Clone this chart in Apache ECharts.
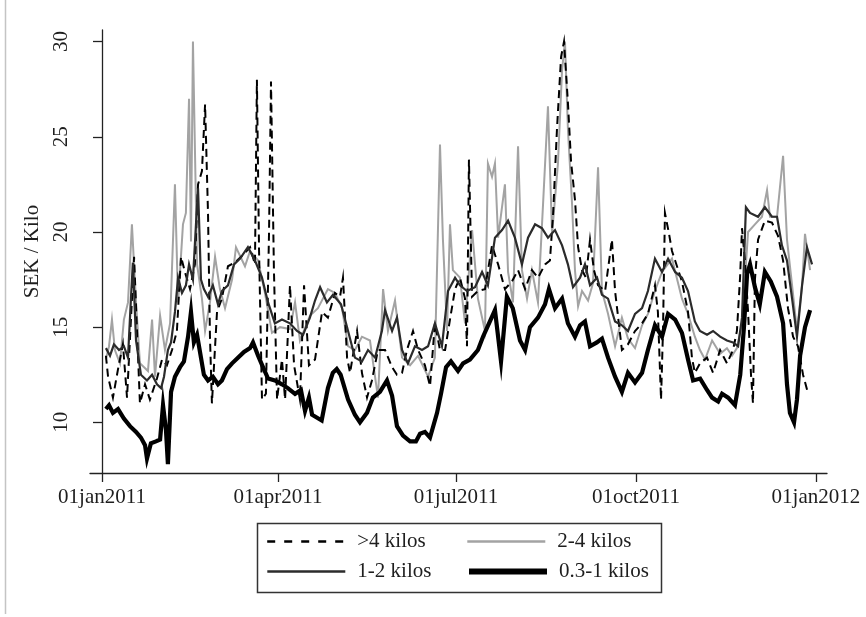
<!DOCTYPE html>
<html>
<head>
<meta charset="utf-8">
<script src="https://cdn.jsdelivr.net/npm/echarts@6/dist/echarts.min.js"></script>
<style>
html,body{margin:0;padding:0;background:#fff;}
#chart{width:866px;height:617px;}
</style>
</head>
<body>
<div id="chart"></div>
<script>
// x values: days since 01jan2011
const tickDays = [0, 90, 181, 273, 365];
const tickLabels = ['01jan2011', '01apr2011', '01jul2011', '01oct2011', '01jan2012'];
const yTicks = [10, 15, 20, 25, 30];

// >4 kilos
const daysOver4 = [2.0,3.1,5.6,8.2,10.7,12.8,14.8,16.4,17.9,19.4,22.0,24.5,28.1,30.7,33.2,35.8,38.3,40.4,42.4,45.0,47.5,49.1,51.1,52.7,54.2,55.2,56.2,58.8,61.3,64.4,68.0,72.1,75.7,78.2,79.2,80.3,81.8,83.8,85.4,86.4,87.9,89.5,92.0,93.6,96.1,98.2,101.2,103.3,105.8,108.9,112.5,115.5,119.1,121.7,123.2,125.3,126.8,130.4,132.9,135.5,138.0,141.1,144.7,148.3,150.8,153.4,155.9,159.0,161.6,165.1,167.7,170.2,172.8,175.4,177.9,180.5,183.0,185.6,186.6,187.6,189.2,192.2,195.8,199.4,202.5,206.0,209.6,212.7,216.3,219.8,222.9,226.5,229.0,230.6,232.6,234.7,236.2,238.2,239.8,241.8,243.4,245.4,247.4,249.5,251.5,253.6,257.2,260.7,262.3,265.8,268.9,272.5,276.1,279.1,282.7,284.2,285.8,286.8,287.8,289.9,291.4,293.0,296.5,299.6,301.6,303.1,305.7,309.3,312.4,316.0,319.5,322.6,324.6,326.2,327.2,328.7,330.3,331.8,332.8,333.8,335.4,338.9,342.5,345.6,348.2,350.7,353.3,355.8,358.4,361.0];
const valsOver4 = [13.5,12.4,11.3,12.8,14.1,11.3,15.4,18.7,14.8,11.0,12.0,11.2,12.3,13.3,13.0,13.8,14.8,18.7,17.9,17.0,18.3,22.5,23.2,26.7,21.0,14.5,11.0,15.8,16.5,18.2,18.4,18.8,19.2,18.3,28.0,19.0,11.2,11.5,20.0,27.9,18.0,11.2,13.3,11.2,17.2,13.0,11.2,17.2,13.0,13.3,15.8,15.5,16.8,16.6,17.6,13.4,12.6,14.8,12.6,11.3,12.2,13.8,13.8,12.9,12.5,12.6,13.8,14.8,13.8,13.0,11.9,15.2,13.8,13.8,15.4,17.0,17.6,16.5,14.0,23.8,16.6,16.9,17.0,19.3,18.3,17.0,17.4,18.0,17.0,18.0,17.6,18.3,18.5,20.9,25.4,29.2,30.0,26.8,23.7,21.7,19.2,18.0,17.6,19.6,18.0,17.2,16.9,19.6,16.9,13.8,14.1,14.8,15.2,15.7,17.2,15.8,11.2,14.8,21.0,19.9,19.0,18.5,17.4,15.8,13.4,12.6,13.1,13.4,12.6,13.8,13.1,13.8,14.8,17.6,20.2,18.5,15.8,12.5,11.0,17.5,19.6,20.6,20.5,19.8,18.5,16.0,14.5,14.0,12.5,11.5];

// 2-4 kilos
const days2to4 = [2.0,3.6,5.1,6.6,9.2,11.2,13.3,15.3,17.4,19.4,23.5,25.6,27.1,29.7,32.2,34.8,37.3,38.9,41.4,42.9,44.5,45.5,46.5,48.6,51.1,52.7,55.2,57.8,60.3,62.9,66.5,68.5,73.1,75.7,79.8,83.3,86.9,91.0,96.1,98.7,101.2,106.3,110.4,115.5,119.1,122.7,125.8,129.3,132.9,137.0,141.1,143.7,146.2,149.8,153.4,157.5,161.6,166.7,170.2,172.8,174.3,176.4,177.9,179.4,183.0,185.6,189.2,192.2,195.8,197.3,199.4,200.9,202.5,206.0,207.6,210.1,212.7,214.7,217.3,219.8,222.9,225.5,228.0,230.1,233.1,235.2,236.7,238.2,240.3,241.8,243.4,245.4,248.5,251.0,253.6,255.6,258.7,262.3,265.8,268.9,272.5,276.1,279.1,282.7,286.3,291.4,296.5,299.6,303.1,305.7,308.3,311.9,316.0,319.5,322.1,324.6,327.2,330.3,333.8,337.4,340.0,341.5,345.1,348.2,350.2,352.8,355.3,357.9,359.4,362.0];
const vals2to4 = [13.3,14.0,15.4,13.8,13.1,15.4,16.3,20.4,16.3,13.1,12.7,15.4,12.4,15.6,13.8,15.2,22.5,16.3,20.4,21.0,27.0,19.5,30.0,18.3,16.5,14.8,16.3,18.7,17.0,16.0,17.5,19.2,18.2,19.0,18.5,16.8,14.7,15.0,14.9,16.3,14.3,15.6,16.0,17.0,16.8,16.0,14.0,13.8,14.5,14.3,11.3,17.0,14.8,16.4,13.4,13.0,13.5,12.4,13.4,24.6,19.6,14.8,20.4,18.0,17.6,15.2,20.1,16.5,14.8,23.6,22.9,23.6,19.7,22.5,17.9,16.3,24.5,18.0,16.5,18.0,16.3,21.5,26.6,19.9,23.6,28.5,30.0,25.4,21.5,18.0,16.1,16.9,16.4,17.3,23.4,16.9,15.7,14.0,15.5,14.4,13.9,15.1,15.7,16.9,17.9,18.6,16.5,15.7,14.5,13.8,13.3,14.3,13.6,13.9,13.5,13.9,15.2,20.0,20.4,20.8,22.2,20.8,20.8,24.0,19.6,17.2,14.8,17.2,19.9,18.0];

// 1-2 kilos
const days1to2 = [2.0,4.1,6.1,8.7,11.2,13.3,14.8,15.8,17.4,19.9,23.0,25.6,28.1,30.2,31.7,33.7,35.3,37.3,38.9,40.9,42.9,44.5,46.5,48.1,49.1,50.6,52.1,54.2,56.7,59.3,61.3,64.4,67.5,70.6,74.6,78.2,81.8,84.9,88.4,92.0,96.1,99.7,102.8,106.3,108.9,111.5,115.0,118.1,122.2,125.8,129.3,132.9,136.0,139.6,143.1,144.7,148.3,150.8,153.4,156.4,160.0,163.6,166.7,170.2,173.8,176.9,180.5,183.0,186.6,190.7,194.3,197.3,200.9,204.5,207.6,211.1,214.7,217.8,221.4,224.9,228.0,231.6,235.2,238.2,240.8,244.4,246.9,249.5,253.1,255.6,258.7,262.3,265.8,268.9,272.5,276.1,279.1,282.7,286.3,289.4,293.0,296.5,299.6,303.1,305.7,309.3,312.4,316.0,319.5,322.6,325.2,327.2,329.2,331.3,335.4,338.9,342.5,345.1,347.6,350.2,352.8,355.3,357.9,360.4,363.0];
const vals1to2 = [13.9,13.5,14.1,13.8,14.0,13.4,16.5,18.4,14.3,12.5,12.2,12.5,12.0,11.8,12.4,13.8,14.2,15.8,17.6,16.8,17.2,18.3,17.5,20.5,22.3,17.5,17.0,16.6,17.2,16.2,16.9,17.2,18.3,18.6,19.2,18.5,17.6,16.3,15.2,15.4,15.2,14.8,14.6,15.5,16.4,17.1,16.3,16.7,16.2,14.8,13.4,13.2,13.8,13.4,14.8,15.9,14.8,15.5,13.8,13.1,14.0,13.8,14.0,15.2,14.0,16.9,17.6,17.2,16.9,17.1,17.9,17.2,19.7,20.1,20.6,19.7,18.3,19.7,20.4,20.2,19.7,20.1,19.3,18.3,17.1,17.6,18.3,17.2,17.6,16.7,16.5,15.3,15.1,14.8,15.7,16.0,16.9,18.6,17.9,18.6,17.9,17.6,16.9,15.3,14.8,14.6,14.8,14.5,14.3,14.2,14.0,15.5,21.3,21.0,20.8,21.3,20.8,20.8,19.3,18.5,16.5,14.5,17.2,19.2,18.3];

// 0.3-1 kilos
const days03to1 = [2,3.6,5.6,8.2,11.2,14.3,17.4,19.9,22,23,25,27.6,29.7,31.2,32.7,33.7,35.3,37.3,39.9,41.9,44,45.5,47,48.6,50.6,52.1,54.2,56.7,59.3,61.3,63.9,66.5,69.5,72.6,75.7,77.2,79.8,82.3,84.9,88.4,92,95,98.7,101.7,103.8,105.8,107.4,112.3,115.5,118,120,122,125.8,129.3,131.9,135.5,138.5,142.1,145.7,148.3,150.8,153.9,157.5,160.5,162.6,165.1,167.7,171.3,173.3,175.9,178.4,182,184.6,188.1,192.2,194.8,200.9,204,207,210,213.7,216.3,218.8,222.9,226.5,228.5,231.6,235.2,238.2,241.8,244.4,246.9,249.5,253,255.6,258.7,262.3,265.8,268.9,272.5,276.1,279.1,282.7,286.3,289.4,293,296.5,299.6,302.2,305.8,309.3,311.9,315,317,320.1,323.6,326.3,328.2,329.8,331.3,333.8,336.3,338.9,341.9,345.1,348.2,350.2,351.7,353.8,355.3,356.9,359.4,362];
const vals03to1 = [10.7,10.9,10.5,10.7,10.2,9.8,9.5,9.2,8.8,8.1,8.9,9.0,9.1,10.9,9.6,7.8,11.6,12.4,12.9,13.2,14.5,15.8,14.2,14.6,13.4,12.5,12.2,12.4,12.0,12.2,12.8,13.1,13.4,13.7,13.9,14.2,13.5,12.9,12.3,12.2,12.0,11.8,11.5,11.7,10.6,11.3,10.4,10.1,11.8,12.6,12.8,12.5,11.2,10.4,10.0,10.5,11.3,11.6,12.2,11.4,9.8,9.3,9.0,9.0,9.4,9.5,9.2,10.5,11.5,12.9,13.2,12.7,13.1,13.3,13.8,14.5,15.9,13.2,16.6,16.0,14.3,13.8,15.0,15.5,16.2,17.0,16.0,16.5,15.2,14.5,15.1,15.3,14.0,14.2,14.4,13.4,12.4,11.6,12.6,12.1,12.6,13.8,15.1,14.5,15.7,15.4,14.7,13.3,12.2,12.3,11.7,11.3,11.1,11.5,11.3,10.9,12.5,15.0,17.8,18.3,17.1,16.2,17.9,17.4,16.6,15.2,12.0,10.5,10.0,11.2,13.5,15.0,15.9];

const zip = (d, v) => d.map((x, i) => [x, v[i]]);
const FONT = 'Liberation Serif';
const TXT = '#1e1e1e';

const chart = echarts.init(document.getElementById('chart'), null, {renderer: 'canvas'});

const styles = {
  '>4 kilos':   {color: '#000000', width: 2, legendWidth: 2.4, type: [8, 5], legendType: [8, 9]},
  '2-4 kilos':  {color: '#a3a3a3', width: 2, legendWidth: 2.6, type: 'solid', legendType: 'solid'},
  '1-2 kilos':  {color: '#2b2b2b', width: 2.2, legendWidth: 2.6, type: 'solid', legendType: 'solid'},
  '0.3-1 kilos':{color: '#000000', width: 4.2, legendWidth: 6, type: 'solid', legendType: 'solid'}
};

function mkSeries(name, data, z) {
  const s = styles[name];
  return {
    name: name, type: 'line', data: data, symbol: 'none', showSymbol: false,
    z: z, silent: true,
    itemStyle: {color: s.color},
    lineStyle: {color: s.color, width: s.width, type: s.type, join: 'miter'}
  };
}

function mkLegend(name, left, top) {
  const s = styles[name];
  return {
    data: [{name: name, itemStyle: {opacity: 0}, lineStyle: {color: s.color, width: s.legendWidth, type: s.legendType, opacity: 1}}],
    left: left, top: top, padding: 0, itemWidth: 78, itemHeight: 14,
    selectedMode: false,
    itemStyle: {opacity: 0},
    textStyle: {fontFamily: FONT, fontSize: 21, color: TXT, padding: [0, 0, 0, 7]}
  };
}

const option = {
  animation: false,
  backgroundColor: '#ffffff',
  grid: {left: 90, right: 39, top: 30, bottom: 144, containLabel: false},
  xAxis: {
    type: 'value', min: -6.13, max: 370.65,
    splitLine: {show: false},
    axisLine: {show: true, lineStyle: {color: '#222', width: 1.3}},
    axisTick: {show: true, length: 9, customValues: tickDays, lineStyle: {color: '#222', width: 1.3}},
    axisLabel: {
      customValues: tickDays, margin: 14,
      fontFamily: FONT, fontSize: 21, color: TXT,
      formatter: function (v) { const i = tickDays.indexOf(Math.round(v)); return i >= 0 ? tickLabels[i] : ''; }
    }
  },
  yAxis: {
    type: 'value', min: 7.34, max: 30.61,
    name: 'SEK / Kilo', nameLocation: 'middle', nameGap: 42,
    nameTextStyle: {fontFamily: FONT, fontSize: 21, color: TXT},
    splitLine: {show: false},
    axisLine: {show: true, lineStyle: {color: '#222', width: 1.3}},
    axisTick: {show: true, length: 9, customValues: yTicks, lineStyle: {color: '#222', width: 1.3}},
    axisLabel: {customValues: yTicks, rotate: 90, margin: 18, fontFamily: FONT, fontSize: 21, color: TXT}
  },
  legend: [
    mkLegend('>4 kilos', 266, 531),
    mkLegend('2-4 kilos', 466, 531),
    mkLegend('1-2 kilos', 266, 561),
    mkLegend('0.3-1 kilos', 466, 561)
  ],
  graphic: [
    {type: 'rect', shape: {x: 257.5, y: 523.5, width: 404, height: 69}, style: {fill: 'none', stroke: '#333', lineWidth: 1.5}, silent: true},
    {type: 'line', shape: {x1: 5.5, y1: 0, x2: 5.5, y2: 614}, style: {stroke: '#c4c4c4', lineWidth: 1.5}, silent: true}
  ],
  series: [
    mkSeries('2-4 kilos', zip(days2to4, vals2to4), 2),
    mkSeries('>4 kilos', zip(daysOver4, valsOver4), 3),
    mkSeries('1-2 kilos', zip(days1to2, vals1to2), 4),
    mkSeries('0.3-1 kilos', zip(days03to1, vals03to1), 5)
  ]
};
chart.setOption(option);
</script>
</body>
</html>
